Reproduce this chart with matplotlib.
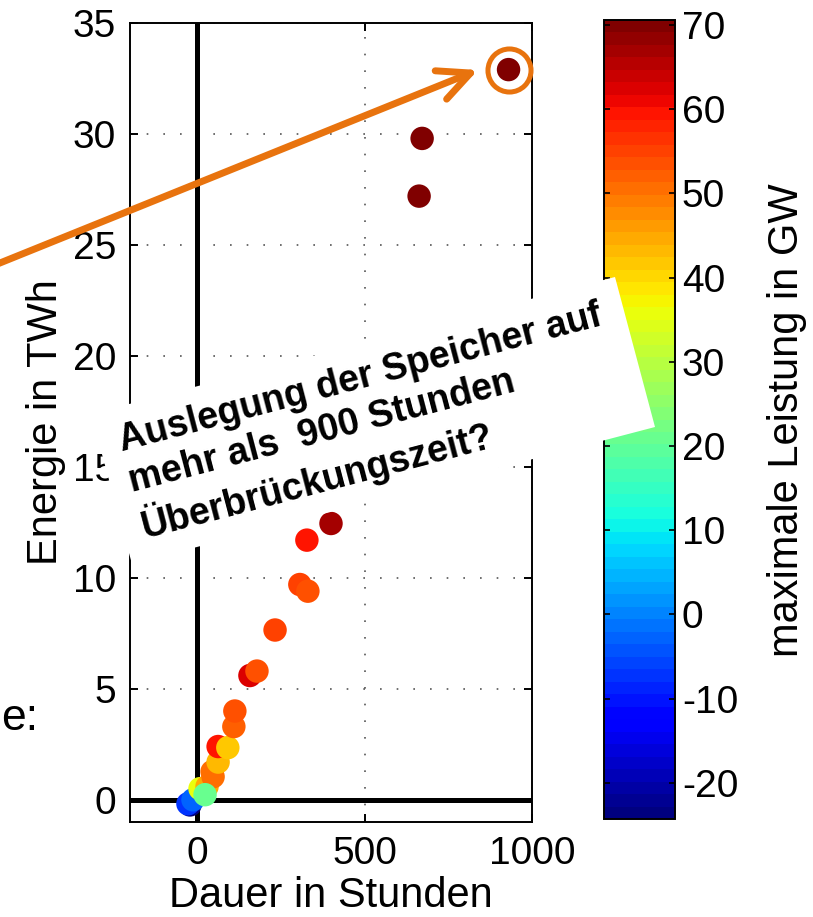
import matplotlib
matplotlib.use("Agg")
import matplotlib.pyplot as plt
from matplotlib.patches import Polygon, FancyArrowPatch
import numpy as np

plt.rcParams['font.family'] = ['Liberation Sans', 'DejaVu Sans']
plt.rcParams['axes.unicode_minus'] = False

# ---- data, in drawing order ----
dauer_h = [-21, -27, -12, 9, 30, 48, 45, 63, 63, 92, 110, 113,
           158, 179, 233, 307, 331, 328, 400, 663, 672, 930, 24]
energie_twh = [-0.23, -0.18, 0.0, 0.5, 0.6, 1.04, 1.27, 1.7, 2.4, 2.35, 3.3, 4.0,
               5.6, 5.8, 7.65, 9.7, 9.4, 11.7, 12.45, 27.2, 29.8, 32.9, 0.23]
leistung_gw = [-24.3, -7.5, -3.5, 35.5, 45.0, 51.0, 50.0, 43.0, 59.0, 41.5, 52.5, 54.0,
               62.5, 54.0, 54.5, 54.5, 54.0, 59.0, 67.5, 70.0, 69.5, 70.6, 20.5]
x_ticks = [0, 500, 1000]
y_ticks = [0, 5, 10, 15, 20, 25, 30, 35]
cb_ticks = [-20, -10, 0, 10, 20, 30, 40, 50, 60, 70]

x_label = "Dauer in Stunden"
y_label = "Energie in TWh"
cb_label = "maximale Leistung in GW"
callout = "Auslegung der Speicher auf\nmehr als  900 Stunden\nÜberbrückungszeit?"

W, H = 813, 917
ORANGE = '#E8730E'

def fx(px):
    return px / W

def fy(py):
    return 1 - py / H

fig = plt.figure(figsize=(W / 100, H / 100), dpi=100)
ax = fig.add_axes([fx(130), fy(822), 402 / W, 799 / H])

sc = ax.scatter(dauer_h, energie_twh, c=leistung_gw, cmap=plt.get_cmap('jet', 64),
                s=285, linewidths=0, zorder=3)
ax.axvline(0, color='k', lw=3.6, zorder=2)
ax.axhline(0, color='k', lw=3.6, zorder=2)

ax.set_xlim(-200, 1000)
ax.set_ylim(-1, 35)
ax.set_xticks(x_ticks)
ax.set_yticks(y_ticks)
ax.grid(True, color='#555555', lw=1.2, linestyle=(0, (1, 9)))
ax.set_axisbelow(True)
for s in ax.spines.values():
    s.set_linewidth(1.4)
ax.tick_params(direction='in', length=6, width=1.4, top=True, right=True,
               labelsize=28, pad=10)

ax.set_xlabel(x_label, fontsize=30)
ax.set_ylabel(y_label, fontsize=30)
ax.xaxis.set_label_coords(0.5, -0.067)
ax.yaxis.set_label_coords(-0.159, 0.5)

# highlight of the longest-duration point
imax = int(np.argmax(dauer_h))
ax.plot(dauer_h[imax], energie_twh[imax], marker='o', ms=31, mfc='none',
        mec=ORANGE, mew=3.6, clip_on=False, zorder=4)

# colorbar
cax = fig.add_axes([fx(604), fy(819), 71 / W, 799 / H])
cb = fig.colorbar(sc, cax=cax, ticks=cb_ticks)
cb.outline.set_linewidth(1.4)
cax.tick_params(direction='in', length=4, width=1.2, left=True, right=True,
                labelsize=28, pad=5)
fig.text(fx(787), fy(420), cb_label, rotation=90, ha='center', va='center',
         fontsize=30)

# leftover slide text
fig.text(fx(38), fy(730), "e:", ha='right', va='baseline', fontsize=32)

# white rotated callout box
box = Polygon([(fx(91), fy(414)), (fx(615), fy(277)), (fx(655), fy(427)),
               (fx(132), fy(564))], closed=True, transform=fig.transFigure,
              facecolor='white', edgecolor='none', zorder=10)
fig.add_artist(box)
# anchor = start of the last line's baseline
fig.text(fx(143), fy(532), callout, rotation=14.7, rotation_mode='anchor',
         ha='left', va='baseline', fontsize=27, fontweight='bold',
         linespacing=1.2, zorder=11)

# orange arrow
arr = FancyArrowPatch((fx(-10), fy(267)), (fx(478), fy(70)),
                      transform=fig.transFigure,
                      arrowstyle='->,head_length=1.15,head_width=0.55',
                      mutation_scale=20, lw=5, color=ORANGE,
                      shrinkA=0, shrinkB=0, capstyle='round', joinstyle='round',
                      zorder=12)
fig.add_artist(arr)

fig.savefig('out.png', dpi=100)
